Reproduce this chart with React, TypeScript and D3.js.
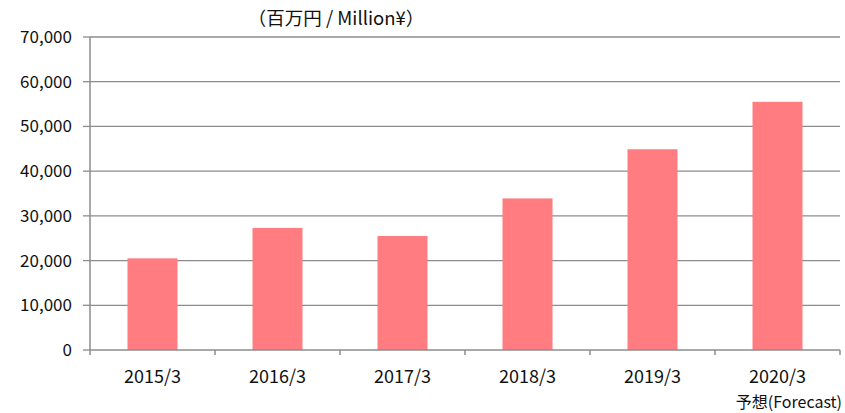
import React from 'react';
import * as d3 from 'd3';

const categories = ['2015/3', '2016/3', '2017/3', '2018/3', '2019/3', '2020/3'];
const sales = [20500, 27300, 25500, 33900, 44900, 55500];
const yTicks = [0, 10000, 20000, 30000, 40000, 50000, 60000, 70000];

const width = 845;
const height = 413;
const margin = { top: 37, right: 5, bottom: 63, left: 90 };
const font = '"Noto Sans CJK JP", "Noto Sans", sans-serif';

const App = () => {
  const x = d3.scaleBand()
    .domain(categories)
    .range([margin.left, width - margin.right])
    .paddingInner(0.6)
    .paddingOuter(0.3);

  const y = d3.scaleLinear()
    .domain([0, 70000])
    .range([height - margin.bottom, margin.top]);

  const fmt = d3.format(',');
  const step = x.step();
  const x0 = margin.left;
  const x1 = width - margin.right;
  const y0 = y(0);

  return (
    <svg width={width} height={height} style={{ position: 'absolute', left: 0, top: 0, background: 'white' }}>
      {yTicks.map((t) => (
        <g key={t}>
          {t > 0 && <line x1={x0} x2={x1} y1={y(t)} y2={y(t)} stroke="#8c8c8c" strokeWidth={1.3} />}
          <line x1={x0 - 7} x2={x0} y1={y(t)} y2={y(t)} stroke="#8c8c8c" strokeWidth={1.3} />
          <text x={x0 - 18} y={y(t)} dy="0.35em" textAnchor="end" fontSize={17} fontFamily={font} fill="#111">
            {fmt(t)}
          </text>
        </g>
      ))}
      {categories.map((c, i) => (
        <rect key={c} x={x(c)} y={y(sales[i])} width={x.bandwidth()} height={y0 - y(sales[i])} fill="#FF7C80" />
      ))}
      <line x1={x0} x2={x0} y1={y(70000)} y2={y0 + 5} stroke="#8c8c8c" strokeWidth={1.5} />
      <line x1={x0} x2={x1} y1={y0} y2={y0} stroke="#8c8c8c" strokeWidth={1.5} />
      {categories.map((c, i) => (
        <line key={c} x1={x0 + step * (i + 1)} x2={x0 + step * (i + 1)} y1={y0} y2={y0 + 5} stroke="#8c8c8c" strokeWidth={1.5} />
      ))}
      {categories.map((c) => (
        <text key={c} x={(x(c) as number) + x.bandwidth() / 2} y={y0 + 27} dy="0.35em" textAnchor="middle" fontSize={18} fontFamily={font} fill="#111">
          {c}
        </text>
      ))}
      <text x={842} y={y0 + 52} dy="0.35em" textAnchor="end" fontSize={16} fontFamily={font} fill="#111">
        予想(Forecast)
      </text>
      <text x={336} y={19} dy="0.35em" textAnchor="middle" fontSize={18.5} fontFamily={font} fill="#111">
        （百万円 / Million¥）
      </text>
    </svg>
  );
};

export default App;
